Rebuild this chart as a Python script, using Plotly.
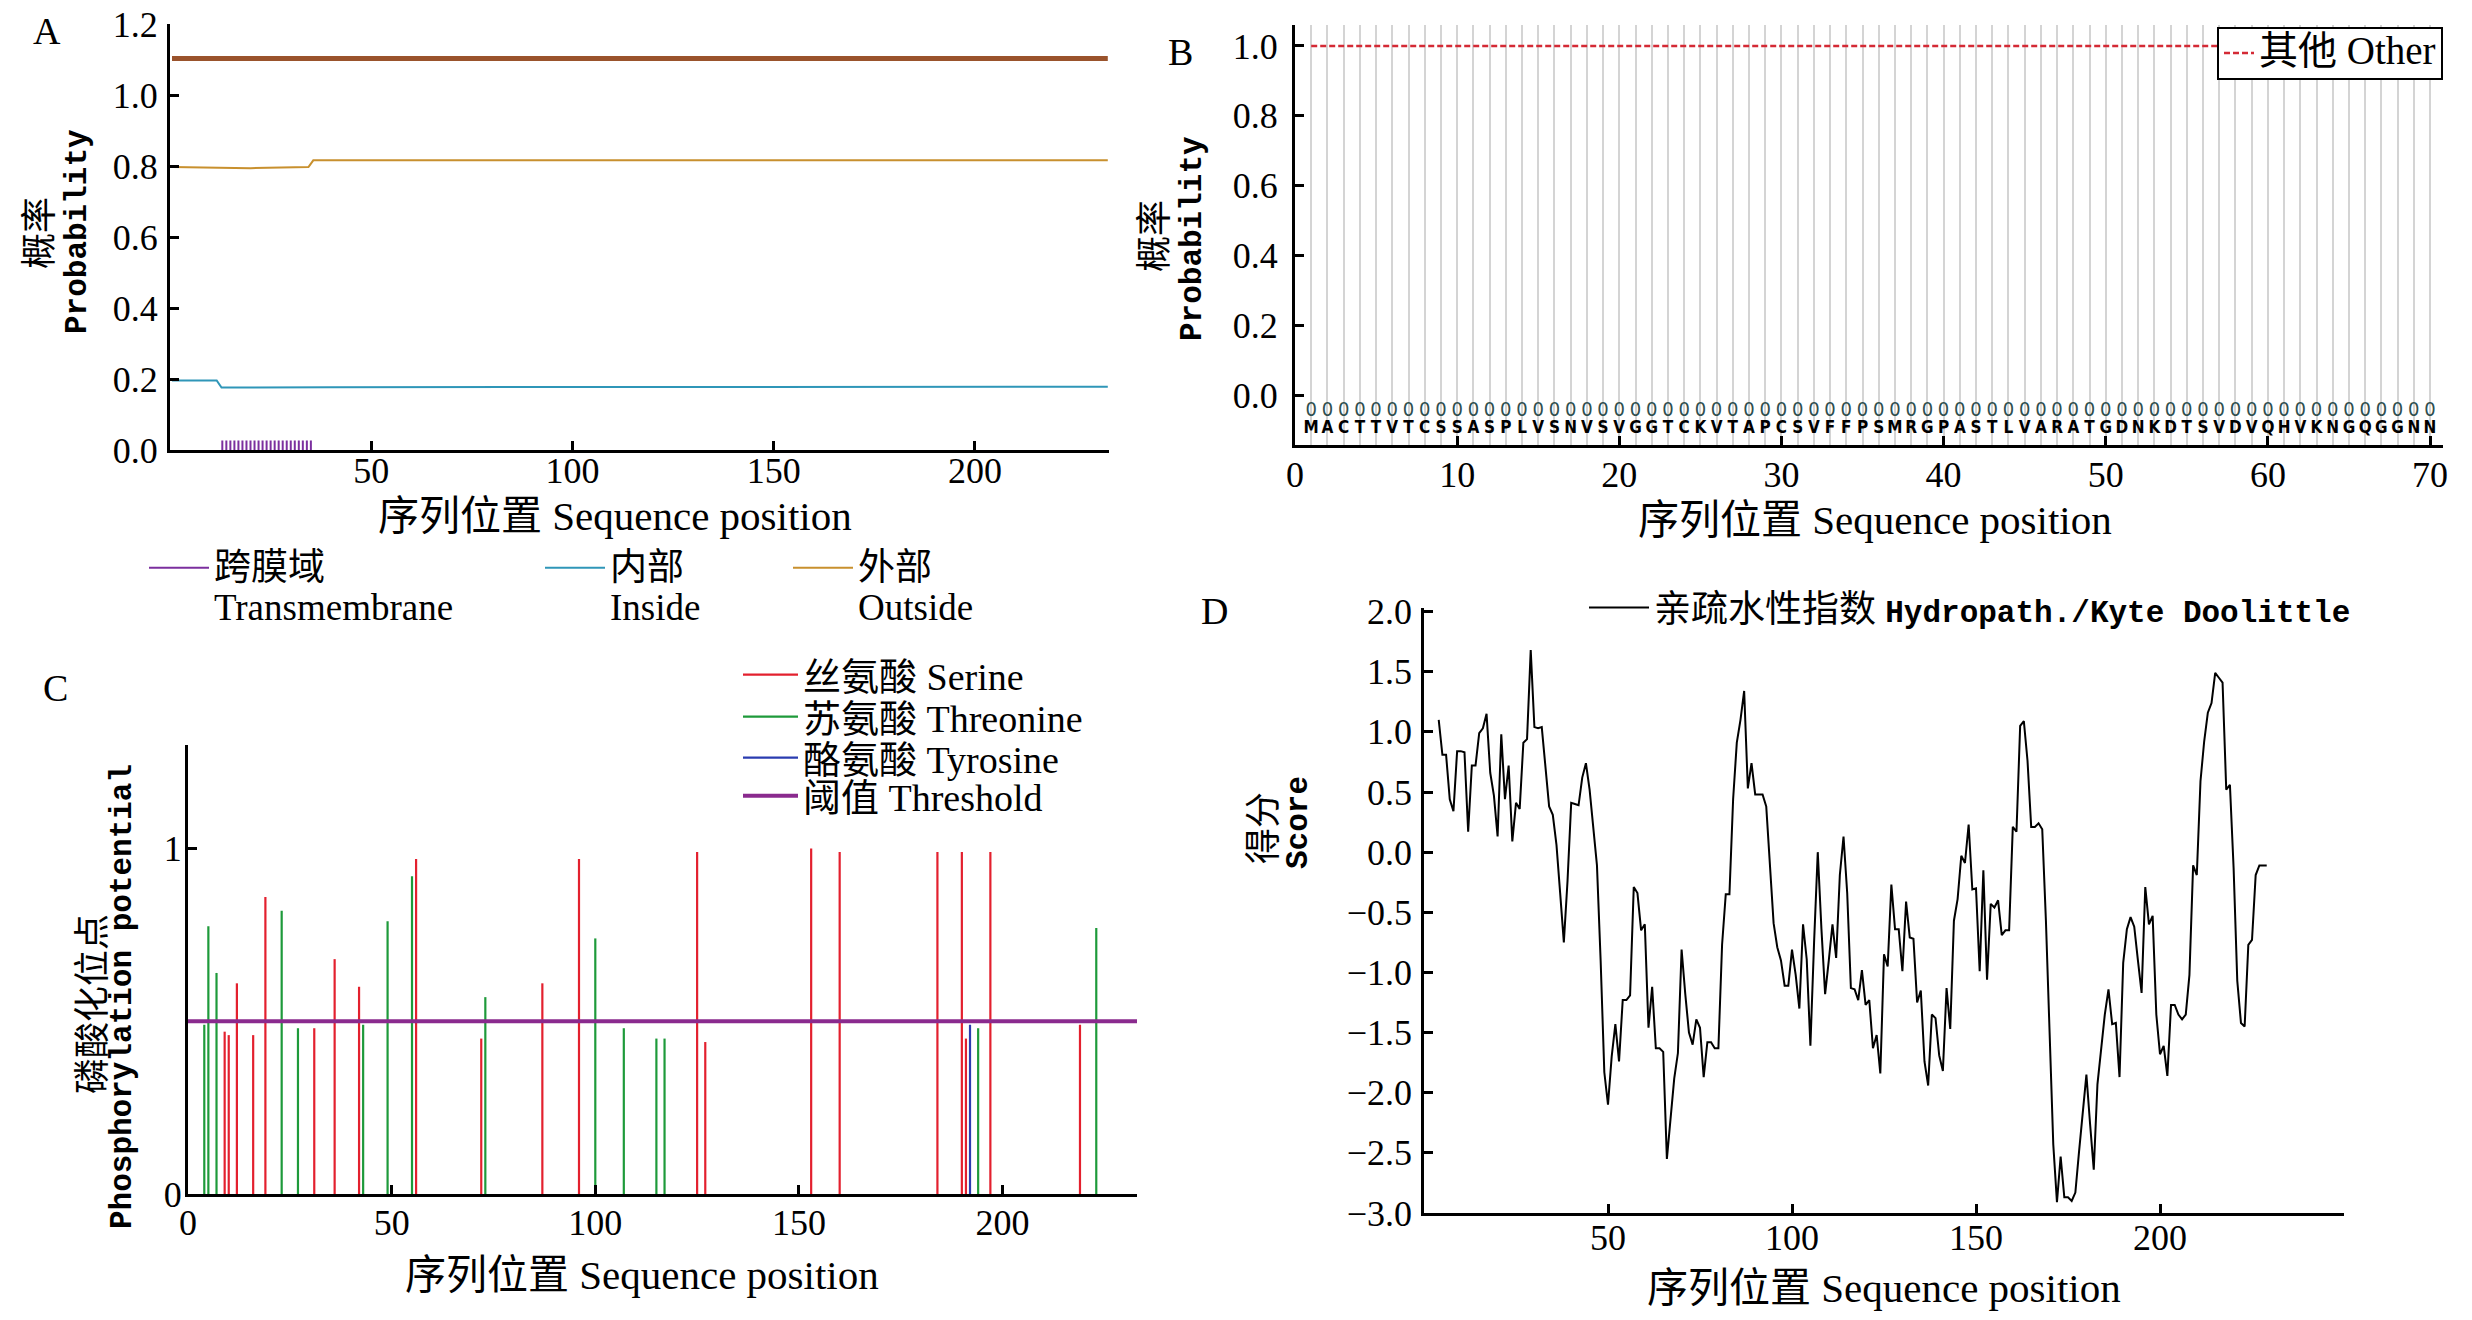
"""
Four-panel protein prediction figure (A: topology, B: signal peptide,
C: phosphorylation sites, D: Kyte-Doolittle hydropathy), redrawn in Plotly.
"""

import plotly.graph_objects as go

W, H = 2472, 1320
CJK = "Noto Sans CJK SC"
SERIF = f"Liberation Serif, {CJK}"
MONO = f"Liberation Mono, {CJK}"
NARROW = "Liberation Sans Narrow, DejaVu Sans Condensed, sans-serif"

# ---- A: membrane topology probabilities ----
a_tm_pos = [13, 14, 15, 16, 17, 18, 19, 20, 21, 22, 23, 24,
            25, 26, 27, 28, 29, 30, 31, 32, 33, 34, 35]
a_tm_val = [0.013, 0.013, 0.013, 0.013, 0.013, 0.013, 0.013, 0.013,
            0.013, 0.013, 0.013, 0.013, 0.013, 0.013, 0.013, 0.013,
            0.013, 0.013, 0.013, 0.013, 0.013, 0.013, 0.013]
a_inside_pos = [0.5, 11.6, 12.8, 40, 233]
a_inside_val = [0.196, 0.196, 0.176, 0.177, 0.178]
a_outside_pos = [0.5, 20, 34.4, 35.6, 233]
a_outside_val = [0.797, 0.794, 0.797, 0.816, 0.816]
a_topo_pos = [0.5, 233]
a_topo_val = [1.103, 1.103]

# ---- B: signal peptide prediction, first 70 residues ----
b_seq = "MACTTVTCSSASPLVSNVSVGGTCKVTAPCSVFFPSMRGPASTLVARATGDNKDTSVDVQHVKNGQGGNN"
b_pred = "0000000000000000000000000000000000000000000000000000000000000000000000"
b_pos = list(range(1, len(b_seq) + 1))
b_other_pos = [1, 70]
b_other_val = [1.0, 1.0]

# ---- C: phosphorylation potential ----
c_ser_pos = [9, 10, 12, 16, 19, 31, 36, 42, 56, 72, 87, 96, 125, 127,
             153, 160, 184, 190, 191, 197, 219]
c_ser_val = [0.47, 0.46, 0.61, 0.46, 0.86, 0.48, 0.68, 0.60, 0.97, 0.45,
             0.61, 0.97, 0.99, 0.44, 1.00, 0.99, 0.99, 0.99, 0.45, 0.99, 0.49]
c_thr_pos = [4, 5, 7, 23, 27, 43, 49, 55, 73, 100, 107, 115, 117, 194, 223]
c_thr_val = [0.49, 0.775, 0.64, 0.82, 0.48, 0.49, 0.79, 0.92, 0.57, 0.74,
             0.48, 0.45, 0.45, 0.48, 0.77]
c_tyr_pos = [192]
c_tyr_val = [0.49]
c_thresh_pos = [0, 233]
c_thresh_val = [0.5, 0.5]

# ---- D: Kyte-Doolittle hydropathy (window 9) ----
d_start = 4
d_score = [
    1.10, 0.81, 0.81, 0.44, 0.34, 0.84, 0.84, 0.83, 0.17, 0.72,
    0.72, 0.99, 1.03, 1.15, 0.66, 0.47, 0.13, 0.98, 0.44, 0.72,
    0.09, 0.41, 0.36, 0.91, 0.94, 1.68, 1.04, 1.03, 1.04, 0.71,
    0.38, 0.31, 0.06, -0.34, -0.75, -0.24, 0.41, 0.40, 0.39, 0.62,
    0.74, 0.52, 0.23, -0.11, -0.90, -1.83, -2.10, -1.70, -1.43, -1.74,
    -1.23, -1.23, -1.19, -0.29, -0.34, -0.65, -0.60, -1.46, -1.12, -1.63,
    -1.63, -1.66, -2.55, -2.20, -1.88, -1.67, -0.81, -1.18, -1.50, -1.60,
    -1.39, -1.46, -1.87, -1.58, -1.58, -1.63, -1.63, -0.77, -0.35, -0.35,
    0.44, 0.91, 1.10, 1.34, 0.53, 0.74, 0.48, 0.48, 0.48, 0.38,
    -0.07, -0.59, -0.79, -0.90, -1.11, -1.11, -0.81, -1.02, -1.30, -0.60,
    -0.89, -1.61, -0.75, 0.00, -0.64, -1.18, -0.90, -0.60, -0.88, -0.19,
    0.13, -0.34, -1.13, -1.14, -1.23, -0.98, -1.27, -1.23, -1.63, -1.52,
    -1.84, -0.85, -0.95, -0.27, -0.64, -0.64, -0.99, -0.41, -0.71, -0.72,
    -1.25, -1.15, -1.74, -1.94, -1.35, -1.38, -1.69, -1.82, -1.13, -1.47,
    -0.57, -0.39, -0.03, -0.09, 0.23, -0.31, -0.30, -0.99, -0.15, -1.06,
    -0.43, -0.46, -0.40, -0.69, -0.65, -0.65, 0.21, 0.17, 1.05, 1.09,
    0.76, 0.21, 0.21, 0.24, 0.19, -0.57, -1.50, -2.43, -2.91, -2.53,
    -2.87, -2.87, -2.90, -2.83, -2.49, -2.18, -1.85, -2.26, -2.64, -1.93,
    -1.63, -1.35, -1.14, -1.43, -1.42, -1.87, -0.92, -0.64, -0.54, -0.62,
    -0.90, -1.17, -0.29, -0.60, -0.53, -1.35, -1.68, -1.61, -1.86, -1.27,
    -1.27, -1.35, -1.39, -1.35, -1.02, -0.11, -0.19, 0.59, 0.92, 1.16,
    1.24, 1.49, 1.45, 1.41, 0.52, 0.56, -0.13, -1.07, -1.42, -1.45,
    -0.77, -0.73, -0.19, -0.11, -0.11, -0.11,
]
d_pos = list(range(d_start, d_start + len(d_score)))

COL = {
    'tm': '#7b2f9e', 'inside': '#2f96b8', 'outside': '#c8902e', 'topo': '#9a532c',
    'other': '#d42a35', 'ser': '#e3202e', 'thr': '#1e9a3a', 'tyr': '#2a3cb0',
    'thresh': '#8a2a8e',
}


def px(x, y):
    # pixel position on the page -> paper coordinates
    return x / W, 1 - y / H


def stems(pos, val):
    xs, ys = [], []
    for p, v in zip(pos, val):
        xs += [p, p, None]
        ys += [0, v, None]
    return xs, ys


def sized(text, size):
    return f"<span style='font-size:{size}px'>{text}</span>"


def two_line(zh, en, size=37):
    # glyphs at `size`, while the legend font (31px) sets the tighter line step
    return sized(zh, size) + '<br>' + sized(en, size)


fig = go.Figure()

# A
fig.add_trace(go.Scatter(x=a_tm_pos, y=a_tm_val, mode='markers', showlegend=False,
                         marker=dict(symbol='line-ns', size=7, line=dict(color=COL['tm'], width=2)),
                         xaxis='x', yaxis='y'))
fig.add_trace(go.Scatter(x=[None], y=[None], mode='lines', name=two_line('跨膜域', 'Transmembrane'),
                         line=dict(color=COL['tm'], width=2), xaxis='x', yaxis='y',
                         legend='legend'))
fig.add_trace(go.Scatter(x=a_inside_pos, y=a_inside_val, mode='lines', name=two_line('内部', 'Inside'),
                         line=dict(color=COL['inside'], width=2), xaxis='x', yaxis='y', legend='legend2'))
fig.add_trace(go.Scatter(x=a_outside_pos, y=a_outside_val, mode='lines', name=two_line('外部', 'Outside'),
                         line=dict(color=COL['outside'], width=2), xaxis='x', yaxis='y', legend='legend3'))
fig.add_trace(go.Scatter(x=a_topo_pos, y=a_topo_val, mode='lines', showlegend=False,
                         line=dict(color=COL['topo'], width=5), xaxis='x', yaxis='y'))

# B
fig.add_trace(go.Scatter(x=b_other_pos, y=b_other_val, mode='lines', name=sized('其他 Other', 39),
                         line=dict(color=COL['other'], width=2.5, dash='6px,3px'),
                         xaxis='x2', yaxis='y2', legend='legend4'))
fig.add_trace(go.Scatter(x=b_pos, y=[-0.045] * len(b_pos), mode='text', text=list(b_pred),
                         textfont=dict(family=NARROW, size=20, color='#2f4f4f'),
                         showlegend=False, hoverinfo='skip', xaxis='x2', yaxis='y2'))
fig.add_trace(go.Scatter(x=b_pos, y=[-0.097] * len(b_pos), mode='text', text=list(b_seq),
                         textfont=dict(family=NARROW, size=17, color='black', weight='bold'),
                         showlegend=False, hoverinfo='skip', xaxis='x2', yaxis='y2'))

# C: one legend box per entry so the rows sit as tight as in the original
for pos, val, name, key, lg in [(c_ser_pos, c_ser_val, '丝氨酸 Serine', 'ser', 'legend5'),
                                (c_thr_pos, c_thr_val, '苏氨酸 Threonine', 'thr', 'legend6'),
                                (c_tyr_pos, c_tyr_val, '酪氨酸 Tyrosine', 'tyr', 'legend7')]:
    xs, ys = stems(pos, val)
    fig.add_trace(go.Scatter(x=xs, y=ys, mode='lines', name=name,
                             line=dict(color=COL[key], width=2.2),
                             xaxis='x3', yaxis='y3', legend=lg))
fig.add_trace(go.Scatter(x=c_thresh_pos, y=c_thresh_val, mode='lines', name='阈值 Threshold',
                         line=dict(color=COL['thresh'], width=4), xaxis='x3', yaxis='y3',
                         legend='legend8'))

# D
fig.add_trace(go.Scatter(
    x=d_pos, y=d_score, mode='lines',
    name=("亲疏水性指数 <span style='font-family:Liberation Mono;font-size:31px;"
          "font-weight:bold'>Hydropath./Kyte Doolittle</span>"),
    line=dict(color='black', width=2), xaxis='x4', yaxis='y4', legend='legend9'))

axis_base = dict(showline=True, linecolor='black', linewidth=3, ticks='inside', ticklen=9,
                 tickwidth=3, tickcolor='black', showgrid=False, zeroline=False,
                 automargin=False, tickfont=dict(family=SERIF, size=36, color='black'))


def dom_x(l, r):
    return [l / W, r / W]


def dom_y(t, b):
    return [1 - b / H, 1 - t / H]


layout_axes = dict(
    xaxis=dict(axis_base, domain=dom_x(170, 1109), range=[0, 233.3], anchor='y',
               tickvals=[50, 100, 150, 200], ticklabelstandoff=-13),
    yaxis=dict(axis_base, domain=dom_y(24, 450), range=[0, 1.2], anchor='x',
               dtick=0.2, tickformat='.1f', ticklabelstandoff=2),
    xaxis2=dict(axis_base, domain=dom_x(1295, 2443), range=[0, 70.8], anchor='y2',
                dtick=10, tick0=0, showgrid=True, gridcolor='#d4d4d4', gridwidth=1.5,
                minor=dict(dtick=1, showgrid=True, gridcolor='#d4d4d4', gridwidth=1.5),
                ticklabelstandoff=-4),
    yaxis2=dict(axis_base, domain=dom_y(25, 445), range=[-0.143, 1.06], anchor='x2',
                tickvals=[0, 0.2, 0.4, 0.6, 0.8, 1.0], tickformat='.1f', ticklabelstandoff=7),
    xaxis3=dict(axis_base, domain=dom_x(188, 1137), range=[0, 233], anchor='y3',
                tickvals=[0, 50, 100, 150, 200], ticklabelstandoff=-5),
    yaxis3=dict(axis_base, domain=dom_y(745, 1194), range=[0, 1.3], anchor='x3',
                tickvals=[0, 1], ticklabelstandoff=-4),
    xaxis4=dict(axis_base, domain=dom_x(1424, 2344), range=[0, 250], anchor='y4',
                tickvals=[50, 100, 150, 200, 250], ticktext=['50', '100', '150', '200', ''],
                linewidth=2.5, ticklabelstandoff=-9),
    yaxis4=dict(axis_base, domain=dom_y(608, 1213), range=[-3.0, 2.03], anchor='x4',
                dtick=0.5, tick0=0, tickformat='.1f', linewidth=2.5, ticklabelstandoff=2),
)

annotations = []


def add_text(x, y, text, font, angle=0):
    ax, ay = px(x, y)
    annotations.append(dict(x=ax, y=ay, xref='paper', yref='paper', text=text, showarrow=False,
                            xanchor='center', yanchor='middle', textangle=angle,
                            font=dict(color='black', **font)))


# panel letters
for lab, x, y in [('A', 47, 31), ('B', 1180, 52), ('C', 55, 688), ('D', 1214, 611)]:
    add_text(x, y, lab, dict(family=SERIF, size=38))

# x titles
for x, y in [(615, 516), (1875, 520), (642, 1275), (1884, 1288)]:
    add_text(x, y, '序列位置 Sequence position', dict(family=SERIF, size=41))

# y titles (Chinese line + English line)
for zh, en, zx, zy, ex, ey in [('概率', 'Probability', 36, 233, 77, 232),
                               ('概率', 'Probability', 1151, 236, 1193, 239),
                               ('磷酸化位点', 'Phosphorylation potential', 89, 1004, 122, 996),
                               ('得分', 'Score', 1260, 828, 1298, 822)]:
    add_text(zx, zy, zh, dict(family=CJK, size=36), angle=-90)
    add_text(ex, ey, en, dict(family=MONO, size=31, weight='bold'), angle=-90)

legend_base = dict(bgcolor='rgba(0,0,0,0)', borderwidth=0, itemwidth=55,
                   font=dict(family=SERIF, size=38, color='black'))


def leg(x, y, xanchor='left', yanchor='middle', **kw):
    lx, ly = px(x, y)
    return dict(legend_base, x=lx, y=ly, xanchor=xanchor, yanchor=yanchor, **kw)


legend_a = dict(yanchor='top', valign='top', itemwidth=60,
                font=dict(family=SERIF, size=31, color='black'))

fig.update_layout(
    width=W, height=H,
    margin=dict(l=0, r=0, t=0, b=0, autoexpand=False),
    paper_bgcolor='white', plot_bgcolor='white',
    showlegend=True,
    annotations=annotations,
    legend=leg(144, 541, **legend_a),
    legend2=leg(540, 541, **legend_a),
    legend3=leg(788, 541, **legend_a),
    # small base font keeps the framed box as low as the original one
    legend4=leg(2443, 27, xanchor='right', yanchor='top', bgcolor='white', bordercolor='black',
                borderwidth=2, itemwidth=30, font=dict(family=SERIF, size=27, color='black')),
    legend5=leg(738, 675),
    legend6=leg(738, 717),
    legend7=leg(738, 758),
    legend8=leg(738, 796),
    legend9=leg(1584, 608, itemwidth=60, font=dict(family=SERIF, size=37, color='black')),
    **layout_axes,
)

# the page body keeps its default 8px margin otherwise
fig.write_html("out.html", config={'displayModeBar': False},
               post_script="document.body.style.margin = '0';")
